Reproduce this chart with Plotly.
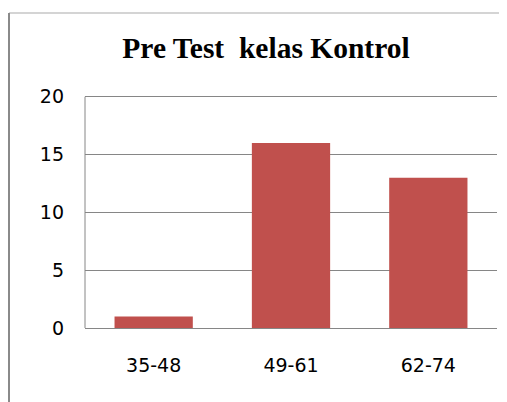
import plotly.graph_objects as go

categories = ["35-48", "49-61", "62-74"]
counts = [1, 16, 13]
y_ticks = [0, 5, 10, 15, 20]

# the page body adds an 8px margin, so the figure is 8px smaller
OFF = 8
W, H = 507 - OFF, 402 - OFF
L, R, T, B = 85 - OFF, 10, 91 - OFF, 74
pw, ph = W - L - R, H - T - B


def px_x(p):
    return (p - OFF - L) / pw


def px_y(p):
    return (H - B - (p - OFF)) / ph


fig = go.Figure()
fig.add_trace(
    go.Bar(
        x=categories,
        y=counts,
        marker=dict(color="#C0504D", line=dict(width=0)),
        width=0.57,
    )
)

# outer chart frame (left and top edges visible)
fig.add_shape(type="line", xref="paper", yref="paper",
              x0=px_x(9), x1=px_x(520), y0=px_y(13), y1=px_y(13),
              line=dict(color="#d4d4d4", width=2))
fig.add_shape(type="line", xref="paper", yref="paper",
              x0=px_x(9), x1=px_x(9), y0=px_y(13), y1=px_y(420),
              line=dict(color="#8a8a8a", width=2))
# left axis line stops at the top gridline
fig.add_shape(type="line", xref="paper", yref="y",
              x0=0, x1=0, y0=0, y1=20,
              line=dict(color="#868686", width=1))

fig.update_layout(
    width=W,
    height=H,
    margin=dict(l=L, r=R, t=T, b=B, autoexpand=False),
    paper_bgcolor="white",
    plot_bgcolor="white",
    showlegend=False,
    title=dict(
        text="Pre Test  kelas Kontrol",
        font=dict(family="Liberation Serif", size=29.5, color="black", weight="bold"),
        x=(266 - OFF) / W,
        xanchor="center",
        y=1 - (48 - OFF) / H,
        yanchor="middle",
        yref="container",
    ),
    xaxis=dict(
        showgrid=False,
        showline=False,
        automargin=False,
        ticks="",
        tickfont=dict(family="DejaVu Sans", size=19, color="black"),
        ticklabelstandoff=24,
    ),
    yaxis=dict(
        range=[0, 20.5],
        tickvals=y_ticks,
        automargin=False,
        showgrid=True,
        gridcolor="#868686",
        gridwidth=1,
        showline=False,
        zeroline=True,
        zerolinecolor="#868686",
        zerolinewidth=1,
        ticks="",
        tickfont=dict(family="DejaVu Sans", size=19, color="black"),
        ticklabelstandoff=20,
    ),
)

fig.write_html("out.html")
